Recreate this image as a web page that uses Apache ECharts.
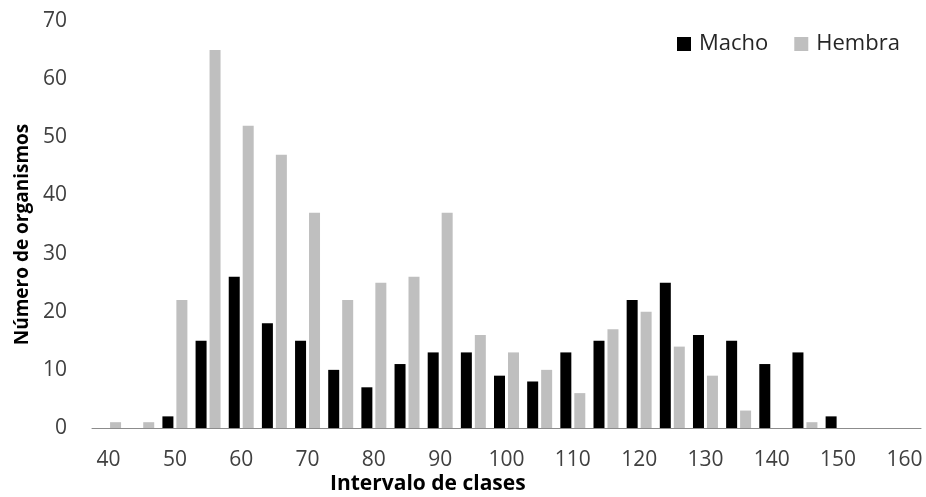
<!DOCTYPE html>
<html>
<head>
<meta charset="utf-8">
<script src="https://cdn.jsdelivr.net/npm/echarts@6/dist/echarts.min.js"></script>
<style>
html,body{margin:0;padding:0;background:#fff;}
#chart{width:926px;height:497px;}
</style>
</head>
<body>
<div id="chart"></div>
<script>
var categories = ['40','45','50','55','60','65','70','75','80','85','90','95','100','105','110','115','120','125','130','135','140','145','150','155','160'];
var macho  = [0,0,2,15,26,18,15,10,7,11,13,13,9,8,13,15,22,25,16,15,11,13,2,0,0];
var hembra = [1,1,22,65,52,47,37,22,25,26,37,16,13,10,6,17,20,14,9,3,0,1,0,0,0];
var yTicks = {min:0, max:70, interval:10};

var FONT = '"Open Sans", "Liberation Sans", sans-serif';
var chart = echarts.init(document.getElementById('chart'), null, {renderer:'canvas'});
chart.setOption({
  animation:false,
  backgroundColor:'#ffffff',
  title:{
    text:'Intervalo de clases',
    left:330, top:474, padding:0,
    textStyle:{fontFamily:FONT, fontSize:21, fontWeight:'bold', color:'#000000'}
  },
  legend:{
    left:677, top:33, padding:0,
    itemWidth:14, itemHeight:14, itemGap:26,
    icon:'rect',
    textStyle:{fontFamily:FONT, fontSize:22, color:'#262626', padding:[0,0,0,3]},
    data:['Macho','Hembra']
  },
  grid:{left:92, right:5, top:21, bottom:69, containLabel:false},
  xAxis:{
    type:'category',
    data:categories,
    axisLine:{show:true, lineStyle:{color:'#8c8c8c', width:1}},
    axisTick:{show:false},
    axisLabel:{interval:1, margin:22, fontFamily:FONT, fontSize:21, color:'#404040'},
    splitLine:{show:false}
  },
  yAxis:{
    type:'value',
    min:yTicks.min, max:yTicks.max, interval:yTicks.interval,
    name:'Número de organismos',
    nameLocation:'middle', nameRotate:90, nameGap:58,
    nameTextStyle:{fontFamily:FONT, fontSize:19, fontWeight:'bold', color:'#000000', padding:[0,20,0,0]},
    axisLine:{show:false},
    axisTick:{show:false},
    axisLabel:{margin:25, fontFamily:FONT, fontSize:21, color:'#404040'},
    splitLine:{show:false}
  },
  series:[
    {name:'Macho', type:'bar', data:macho, barWidth:11, barGap:'27%',
     itemStyle:{color:'#000000'}},
    {name:'Hembra', type:'bar', data:hembra, barWidth:11,
     itemStyle:{color:'#bfbfbf'}}
  ]
});
</script>
</body>
</html>
